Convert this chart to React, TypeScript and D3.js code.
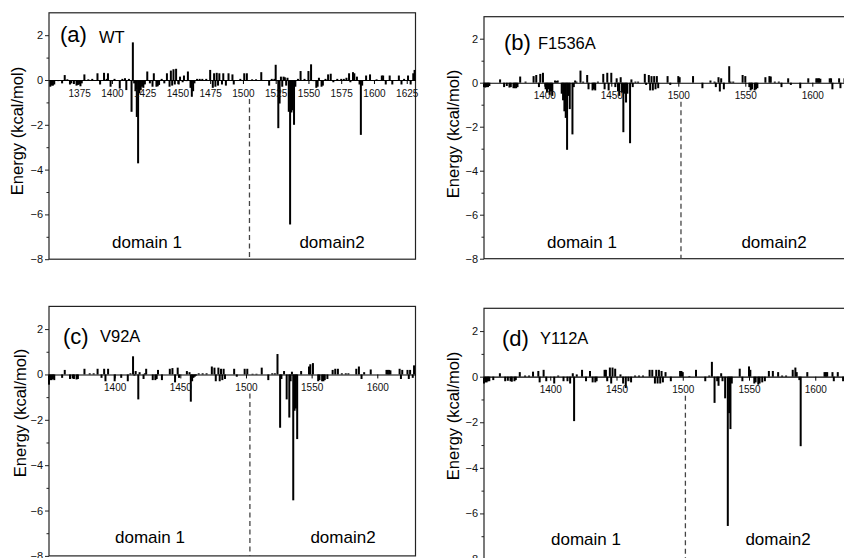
import React, { useEffect } from "react";
import * as d3 from "d3";

type Bar = [number, number];

// [residue, energy kcal/mol]; residues not listed are ~0
const wtBars: Bar[] = [
  [1353, -0.3], [1354, -0.25], [1355, -0.25], [1356, -0.2], [1359, -0.05], [1362, -0.15], [1364, 0.22], [1366, 0.03],
  [1368, -0.2], [1369, -0.15], [1371, -0.18], [1373, -0.25], [1374, -0.22], [1375, -0.2], [1376, -0.28], [1377, -0.15],
  [1379, 0.25], [1382, 0.03], [1385, 0.05], [1389, 0.3], [1391, -0.2], [1394, 0.32], [1396, 0.05], [1397, 0.3],
  [1399, -0.3], [1402, 0.05], [1406, -0.38], [1408, 0.05], [1410, 0.08], [1411, -0.45], [1413, 0.05], [1415, -1.42],
  [1416, 1.68], [1417, -0.15], [1418, -0.5], [1419, -1.65], [1420, -3.72], [1421, -0.6], [1422, -0.45], [1423, -0.3],
  [1424, -0.35], [1425, -0.2], [1427, 0.38], [1429, -0.15], [1431, -0.3], [1432, 0.3], [1434, -0.3], [1435, -0.28],
  [1436, -0.22], [1438, 0.05], [1440, -0.15], [1442, 0.3], [1444, -0.3], [1445, 0.42], [1446, -0.25], [1447, 0.48],
  [1448, -0.2], [1449, 0.5], [1451, -0.2], [1452, 0.15], [1454, -0.1], [1455, 0.2], [1457, -0.05], [1458, 0.38],
  [1460, -0.35], [1461, -0.75], [1462, -0.5], [1463, -0.15], [1465, 0.05], [1467, 0.05], [1469, 0.05], [1472, 0.05],
  [1475, 0.45], [1477, -0.35], [1478, 0.3], [1479, -0.3], [1480, 0.32], [1481, -0.25], [1482, 0.3], [1484, -0.2],
  [1485, 0.3], [1487, -0.25], [1489, 0.3], [1492, 0.25], [1493, -0.2], [1498, 0.05], [1501, 0.3], [1503, 0.3],
  [1507, 0.03], [1510, 0.03], [1514, 0.35], [1520, -0.25], [1522, 0.05], [1524, 0.05], [1525, 0.68], [1527, -2.15],
  [1528, -1.05], [1529, 0.15], [1530, -0.3], [1531, 0.15], [1532, 0.12], [1533, -0.25], [1534, 0.1], [1535, -1.42],
  [1536, -6.45], [1537, -1.45], [1538, -1.35], [1539, -2.0], [1540, -0.3], [1542, 0.05], [1544, 0.4], [1547, 0.05],
  [1550, 0.4], [1552, 0.7], [1554, -0.05], [1556, -0.35], [1557, -0.3], [1558, 0.1], [1560, -0.3], [1561, -0.25],
  [1563, 0.05], [1565, 0.25], [1567, 0.28], [1569, -0.1], [1572, 0.05], [1575, 0.05], [1577, 0.05], [1579, 0.1],
  [1581, 0.3], [1582, -0.1], [1584, 0.35], [1585, 0.3], [1587, 0.15], [1589, -0.2], [1590, -2.45], [1591, -0.25],
  [1594, 0.2], [1597, 0.25], [1602, 0.03], [1606, 0.2], [1607, 0.2], [1609, -0.2], [1612, 0.2], [1614, -0.2],
  [1619, 0.2], [1621, -0.2], [1623, 0.05], [1626, 0.2], [1628, -0.2], [1630, 0.3], [1631, 0.45],
];

const f1536aBars: Bar[] = [
  [1355, -0.2], [1356, -0.22], [1357, -0.2], [1358, -0.2], [1359, -0.15], [1367, 0.15], [1370, -0.2], [1372, -0.15],
  [1374, -0.22], [1375, -0.2], [1377, -0.25], [1378, -0.25], [1379, -0.25], [1380, -0.2], [1382, 0.28], [1386, 0.05],
  [1392, 0.3], [1394, 0.35], [1396, -0.2], [1397, 0.4], [1399, 0.45], [1401, -0.3], [1402, -0.45], [1403, -0.3],
  [1404, -0.55], [1405, -0.4], [1406, -0.6], [1408, 0.1], [1409, 0.08], [1410, 0.1], [1413, -0.5], [1414, -0.8],
  [1415, -1.3], [1416, -1.6], [1417, -3.05], [1418, -0.6], [1419, -1.2], [1421, -2.35], [1422, -0.2], [1423, 0.1],
  [1424, 0.05], [1427, 0.55], [1429, 0.05], [1432, 0.35], [1433, -0.3], [1436, -0.35], [1437, -0.3], [1438, -0.35],
  [1440, 0.05], [1444, 0.4], [1445, -0.3], [1447, 0.45], [1448, -0.35], [1450, 0.45], [1453, -0.2], [1454, 0.2],
  [1455, -0.4], [1456, -0.6], [1457, 0.25], [1458, -0.45], [1459, -2.25], [1460, -0.5], [1461, -0.9], [1462, -0.5],
  [1464, -2.75], [1465, 0.15], [1466, -0.2], [1468, 0.05], [1470, 0.05], [1475, 0.4], [1476, -0.1], [1478, 0.35],
  [1479, -0.35], [1480, 0.3], [1481, -0.35], [1482, 0.3], [1483, -0.3], [1484, 0.3], [1485, -0.25], [1492, 0.3],
  [1494, -0.1], [1500, 0.3], [1501, 0.25], [1511, 0.3], [1518, -0.25], [1524, 0.1], [1527, 0.05], [1528, -0.2],
  [1530, 0.25], [1531, -0.4], [1532, 0.2], [1534, -0.3], [1538, 0.75], [1539, 0.05], [1541, 0.05], [1548, 0.35],
  [1550, 0.3], [1553, -0.2], [1554, -0.35], [1555, -0.3], [1557, -0.35], [1558, -0.3], [1559, -0.25], [1565, 0.25],
  [1568, 0.3], [1569, 0.28], [1572, 0.05], [1575, 0.05], [1577, -0.2], [1582, 0.2], [1584, -0.1], [1591, -0.25],
  [1597, 0.2], [1603, 0.2], [1604, 0.2], [1605, 0.2], [1606, 0.18], [1613, 0.2], [1614, 0.2], [1615, -0.3],
  [1620, 0.2], [1621, -0.25], [1624, 0.2], [1626, -0.2], [1628, 0.3],
];

const v92aBars: Bar[] = [
  [1350, -0.45], [1351, -0.25], [1352, -0.25], [1353, -0.2], [1354, -0.25], [1360, -0.15], [1362, 0.2], [1366, -0.2],
  [1368, -0.18], [1369, -0.2], [1371, -0.22], [1372, -0.2], [1377, 0.25], [1381, 0.05], [1384, 0.05], [1387, 0.25],
  [1390, -0.15], [1392, 0.25], [1393, -0.3], [1395, 0.25], [1400, -0.3], [1405, -0.15], [1410, -0.3], [1412, 0.05],
  [1414, 0.8], [1415, -0.05], [1416, 0.15], [1418, -1.1], [1419, 0.1], [1422, -0.2], [1423, 0.05], [1424, 0.25],
  [1429, -0.25], [1431, -0.25], [1432, -0.2], [1433, 0.2], [1436, -0.25], [1442, 0.25], [1444, 0.28], [1446, -0.35],
  [1448, 0.3], [1449, -0.15], [1455, 0.15], [1457, 0.1], [1458, -1.2], [1459, -0.3], [1460, -0.15], [1461, -0.1],
  [1462, -0.05], [1464, 0.05], [1467, 0.05], [1470, 0.05], [1474, 0.35], [1476, 0.3], [1477, -0.3], [1479, 0.3],
  [1480, -0.3], [1481, 0.25], [1482, -0.25], [1483, 0.25], [1484, -0.2], [1491, 0.25], [1493, -0.1], [1499, 0.25],
  [1501, 0.25], [1505, 0.03], [1508, 0.03], [1512, 0.3], [1517, -0.25], [1520, 0.05], [1522, 0.05], [1524, 0.9],
  [1526, -2.35], [1527, -0.2], [1529, 0.15], [1531, -1.1], [1533, -1.9], [1534, -0.3], [1535, 0.12], [1536, -5.55],
  [1537, -1.6], [1538, -1.5], [1539, -2.85], [1542, 0.15], [1548, 0.35], [1549, 0.45], [1551, 0.5], [1555, -0.3],
  [1556, -0.25], [1558, -0.3], [1559, -0.3], [1560, -0.25], [1562, -0.2], [1566, 0.2], [1568, 0.25], [1570, 0.25],
  [1573, 0.05], [1576, 0.05], [1578, 0.05], [1584, 0.25], [1586, 0.35], [1588, -0.2], [1590, 0.1], [1595, 0.22],
  [1607, 0.2], [1608, 0.2], [1609, 0.2], [1610, 0.18], [1617, 0.25], [1618, -0.2], [1619, 0.2], [1623, 0.2],
  [1624, -0.2], [1625, 0.2], [1627, -0.15], [1628, 0.4],
];

const y112aBars: Bar[] = [
  [1350, -0.3], [1351, -0.25], [1352, -0.25], [1353, -0.2], [1354, -0.2], [1357, -0.15], [1362, 0.15], [1366, -0.2],
  [1368, -0.18], [1370, -0.2], [1371, -0.22], [1373, -0.2], [1374, -0.15], [1377, 0.2], [1381, 0.05], [1384, 0.05],
  [1387, 0.22], [1391, 0.25], [1392, -0.25], [1395, 0.3], [1397, -0.2], [1403, -0.3], [1406, 0.05], [1410, -0.2],
  [1413, -0.2], [1415, -0.3], [1417, 0.15], [1418, -1.95], [1420, 0.1], [1424, 0.3], [1427, -0.2], [1430, 0.25],
  [1432, -0.25], [1434, -0.25], [1435, -0.2], [1441, 0.3], [1442, 0.3], [1443, -0.2], [1445, 0.4], [1446, -0.3],
  [1447, 0.4], [1449, 0.35], [1453, 0.1], [1455, -0.3], [1457, -0.5], [1459, -0.2], [1461, -0.25], [1464, 0.05],
  [1467, 0.05], [1470, 0.05], [1475, 0.3], [1477, 0.3], [1479, -0.3], [1480, 0.3], [1481, -0.3], [1482, 0.3],
  [1483, -0.3], [1484, 0.25], [1485, -0.25], [1487, 0.2], [1491, -0.2], [1498, 0.25], [1499, 0.25], [1500, 0.2],
  [1505, 0.03], [1510, 0.3], [1517, -0.2], [1520, 0.05], [1522, 0.65], [1524, -1.15], [1526, -0.2], [1527, -0.4],
  [1529, 0.15], [1530, -0.2], [1532, -0.95], [1534, -6.55], [1535, -1.6], [1536, -2.3], [1537, -0.3], [1543, 0.35],
  [1545, -0.2], [1550, 0.45], [1551, 0.3], [1554, -0.3], [1555, -0.25], [1557, -0.35], [1558, -0.3], [1560, -0.25],
  [1562, -0.2], [1565, 0.25], [1568, 0.25], [1572, 0.2], [1575, 0.05], [1578, 0.05], [1583, 0.3], [1585, 0.4],
  [1586, 0.2], [1588, -0.15], [1589, -3.05], [1594, 0.2], [1607, 0.2], [1608, 0.2], [1609, 0.2], [1613, 0.2],
  [1614, -0.2], [1617, 0.2], [1621, -0.2], [1624, 0.2], [1627, -0.2], [1629, 0.3],
];

const yTicks = [2, 0, -2, -4, -6, -8];
const yMinorTicks = [1, -1, -3, -5, -7];
const wtXTicks = [1375, 1400, 1425, 1450, 1475, 1500, 1525, 1550, 1575, 1600, 1625];
const mutantXTicks = [1400, 1450, 1500, 1550, 1600];
const domainNames = ["domain 1", "domain2"];
const yTitle = "Energy (kcal/mol)";

const FONT = "'Liberation Sans', Arial, Helvetica, sans-serif";

const panels = [
  {
    id: "pa", tag: "(a)", name: "WT", bars: wtBars, xTicks: wtXTicks, domain: [1352, 1631.7], boundary: 1505,
    left: 49, top: 12.8, width: 366.5, height: 246.4,
    tagX: 60, tagY: 42, nameX: 99, nameY: 42.5, dom1X: 147, dom2X: 332, domY: 248, titleX: 23, titleY: 131,
  },
  {
    id: "pb", tag: "(b)", name: "F1536A", bars: f1536aBars, xTicks: mutantXTicks, domain: [1355, 1630], boundary: 1502,
    left: 484, top: 16.7, width: 368.5, height: 242,
    tagX: 504, tagY: 50, nameX: 538, nameY: 48.5, dom1X: 582, dom2X: 774, domY: 248, titleX: 459, titleY: 134,
  },
  {
    id: "pc", tag: "(c)", name: "V92A", bars: v92aBars, xTicks: mutantXTicks, domain: [1350, 1629.1], boundary: 1503,
    left: 49, top: 306.4, width: 366.5, height: 249.5,
    tagX: 63, tagY: 344, nameX: 100, nameY: 342, dom1X: 150, dom2X: 343, domY: 543, titleX: 26, titleY: 413,
  },
  {
    id: "pd", tag: "(d)", name: "Y112A", bars: y112aBars, xTicks: mutantXTicks, domain: [1350, 1630], boundary: 1502,
    left: 484, top: 308.3, width: 371, height: 250.7,
    tagX: 502, tagY: 345.5, nameX: 540, nameY: 344, dom1X: 586, dom2X: 778, domY: 545, titleX: 459, titleY: 416,
  },
];

const Panel = ({ p }: { p: typeof panels[number] }) => {
  const renderGraph = () => {
    const g = d3.select(`#${p.id}`);
    g.selectChildren().remove();

    const x = d3.scaleLinear().domain(p.domain).range([p.left, p.left + p.width]);
    const y = d3.scaleLinear().domain([-8, 3]).range([p.top + p.height, p.top]);

    // frame
    g.append("rect")
      .attr("x", p.left).attr("y", p.top)
      .attr("width", p.width).attr("height", p.height)
      .attr("fill", "none").attr("stroke", "#222").attr("stroke-width", 1.2);

    // dashed domain boundary
    g.append("line")
      .attr("x1", x(p.boundary)).attr("x2", x(p.boundary))
      .attr("y1", y(0) + 19).attr("y2", p.top + p.height)
      .attr("stroke", "#444").attr("stroke-width", 1.3)
      .attr("stroke-dasharray", "5,3.5");

    // bars
    g.selectAll(".bar")
      .data(p.bars)
      .enter().append("rect")
      .attr("class", "bar")
      .attr("fill", "#000")
      .attr("x", d => x(d[0]) - 1)
      .attr("width", 2)
      .attr("y", d => Math.min(y(0), y(d[1])))
      .attr("height", d => Math.abs(y(d[1]) - y(0)));

    // x axis along zero
    const xAxis = g.append("g")
      .attr("transform", `translate(0, ${y(0)})`)
      .call(d3.axisBottom(x).tickValues(p.xTicks).tickSize(4).tickSizeOuter(0).tickPadding(5.5).tickFormat(d3.format("d")));
    xAxis.select(".domain").attr("stroke", "#000").attr("stroke-width", 1.1);
    xAxis.selectAll(".tick line").attr("stroke", "#000");
    xAxis.selectAll("text").attr("font-family", FONT).attr("font-size", 10).attr("fill", "#111");

    // y axis
    const yAxis = g.append("g")
      .attr("transform", `translate(${p.left}, 0)`)
      .call(d3.axisLeft(y).tickValues(yTicks).tickSize(4).tickPadding(2).tickFormat(d3.format("d")));
    yAxis.select(".domain").remove();
    yAxis.selectAll(".tick line").attr("stroke", "#222");
    yAxis.selectAll("text").attr("font-family", FONT).attr("font-size", 11).attr("fill", "#111");

    g.append("g")
      .attr("transform", `translate(${p.left}, 0)`)
      .call(d3.axisLeft(y).tickValues(yMinorTicks).tickSize(2.5).tickFormat(() => ""))
      .call(s => s.select(".domain").remove())
      .selectAll(".tick line").attr("stroke", "#222");

    // texts
    g.append("text")
      .attr("x", p.tagX).attr("y", p.tagY)
      .attr("font-family", FONT).attr("font-size", 22)
      .text(p.tag);
    g.append("text")
      .attr("x", p.nameX).attr("y", p.nameY)
      .attr("font-family", FONT).attr("font-size", 16.5)
      .text(p.name);

    g.selectAll(".dom")
      .data([p.dom1X, p.dom2X])
      .enter().append("text")
      .attr("class", "dom")
      .attr("x", d => d).attr("y", p.domY)
      .attr("text-anchor", "middle")
      .attr("font-family", FONT).attr("font-size", 17)
      .text((d, i) => domainNames[i]);

    g.append("text")
      .attr("transform", `translate(${p.titleX}, ${p.titleY}) rotate(-90)`)
      .attr("text-anchor", "middle")
      .attr("font-family", FONT).attr("font-size", 16.5)
      .text(yTitle);
  };

  useEffect(() => {
    renderGraph();
  });

  return <g id={p.id} />;
};

const App = () => {
  useEffect(() => {
    document.body.style.margin = "0";
  }, []);

  return (
    <svg width={844} height={558} style={{ display: "block", background: "#fff" }}>
      {panels.map(p => <Panel key={p.id} p={p} />)}
    </svg>
  );
};

export default App;
